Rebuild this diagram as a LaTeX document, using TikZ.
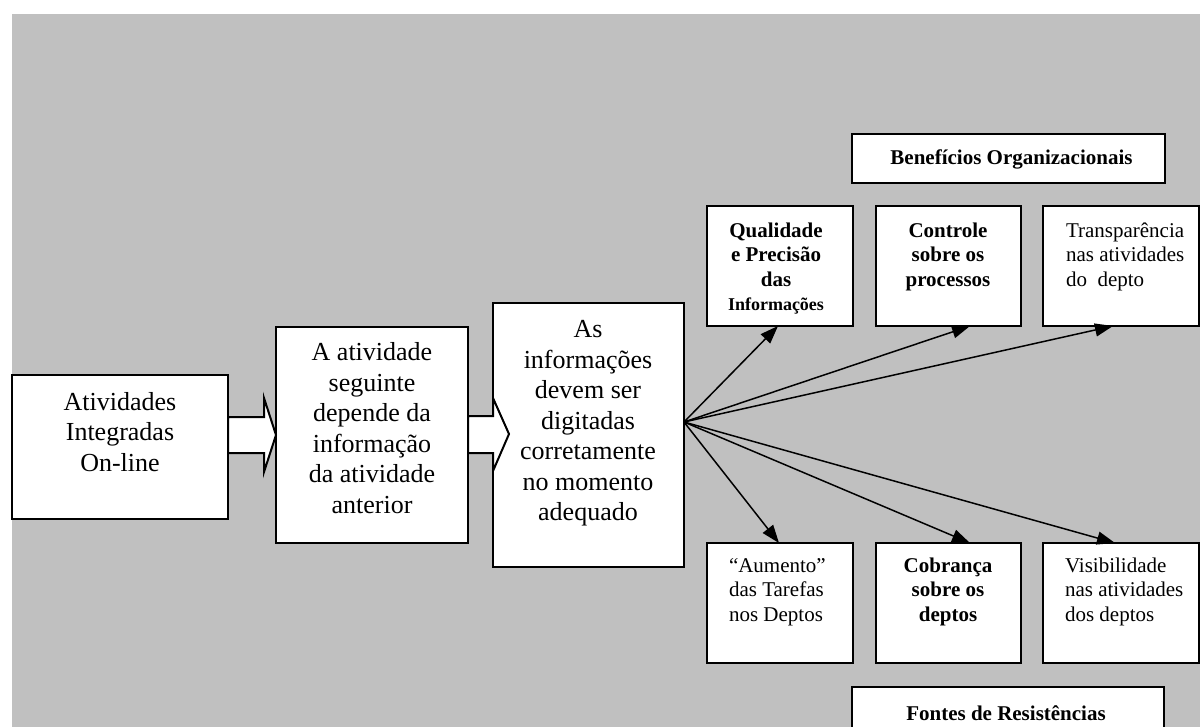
\documentclass[tikz,border=0pt]{standalone}
\usepackage{fontspec}
\setmainfont{Liberation Serif}
\usetikzlibrary{arrows.meta}
\definecolor{canvas}{RGB}{192,192,192}
\newcommand\txtL{\fontsize{26}{30.5}\selectfont}
\newcommand\txtS{\fontsize{21}{24.5}\selectfont}
\newcommand\txtXS{\fontsize{18}{24.5}\selectfont}
\begin{document}
\begin{tikzpicture}[x=1pt,y=-1pt,
  panel/.style={draw=black, fill=white, line width=2pt, inner sep=0pt, outer sep=0pt, anchor=north west},
  txtc/.style={inner sep=0pt, outer sep=0pt, anchor=base},
  txtw/.style={inner sep=0pt, outer sep=0pt, anchor=base west},
  flow/.style={draw=black, fill=white, line width=2pt, line join=miter},
  link/.style={draw=black, line width=1.5pt, -{Triangle[length=18pt,width=13pt]}},
]
% page and grey canvas
\path[use as bounding box, clip] (0,0) rectangle (1200,727);
\fill[white] (0,0) rectangle (1200,727);
\fill[canvas] (12,14) rectangle (1200,727);

% main chain
\node[panel, minimum width=216pt, minimum height=144pt] (b1) at (12,375) {};
\node[panel, minimum width=192pt, minimum height=216pt] (b2) at (276,327) {};
\node[panel, minimum width=191pt, minimum height=264pt] (b3) at (493,303) {};

% headings
\node[panel, minimum width=313pt, minimum height=49pt] (ben) at (852,134) {};
\node[panel, minimum width=312pt, minimum height=60pt] (res) at (852,687) {};

% upper row
\node[panel, minimum width=146pt, minimum height=120pt] (qp) at (707,206) {};
\node[panel, minimum width=145pt, minimum height=120pt] (cp) at (876,206) {};
\node[panel, minimum width=155.5pt, minimum height=120pt] (ta) at (1043,206) {};

% lower row
\node[panel, minimum width=146pt, minimum height=120pt] (at) at (707,543) {};
\node[panel, minimum width=145pt, minimum height=120pt] (cd) at (876,543) {};
\node[panel, minimum width=155.5pt, minimum height=120pt] (va) at (1043,543) {};

% block arrows between the chain boxes
\draw[flow] ([yshift=30pt]b1.east) -- ++(36,0) -- ++(0,-19) -- (b2.west)
  -- ++(-12,37) -- ++(0,-19) -- ++(-36,0) -- cycle;
\draw[flow] ([yshift=19pt]b2.east) -- ++(25,0) -- ++(0,-18) -- ++(16,36)
  -- ++(-16,37) -- ++(0,-18) -- ++(-25,0) -- cycle;

% texts of the chain
\node[txtc] (t1) at (120,410) {\parbox[t]{200pt}{\centering\txtL Atividades\\Integradas\\On-line}};
\node[txtc] (t2) at (372,361) {\parbox[t]{190pt}{\centering\txtL A atividade\\seguinte\\depende da\\informação\\da atividade\\anterior}};
\node[txtc] (t3) at (588,338) {\parbox[t]{190pt}{\centering\txtL As\\informações\\devem ser\\digitadas\\corretamente\\no momento\\adequado}};

% heading texts
\node[txtc] (tben) at (1011.5,165) {\txtS\bfseries Benefícios Organizacionais};
\node[txtc] (tres) at (1006,720) {\txtS\bfseries Fontes de Resistências};

% upper row texts
\node[txtc] (tqp) at (776,237.5) {\parbox[t]{140pt}{\centering\txtS\bfseries Qualidade\\e Precisão\\das\\{\txtXS Informações}}};
\node[txtc] (tcp) at (948,237.5) {\parbox[t]{140pt}{\centering\txtS\bfseries Controle\\sobre os\\processos}};
\node[txtw] (tta) at (1066,237.5) {\parbox[t]{140pt}{\raggedright\txtS Transparência\\nas atividades\\do\ \ depto}};

% lower row texts
\node[txtw] (tat) at (729,572) {\parbox[t]{140pt}{\raggedright\txtS “Aumento”\\das Tarefas\\nos Deptos}};
\node[txtc] (tcd) at (948,572) {\parbox[t]{140pt}{\centering\txtS\bfseries Cobrança\\sobre os\\deptos}};
\node[txtw] (tva) at (1065,572) {\parbox[t]{140pt}{\raggedright\txtS Visibilidade\\nas atividades\\dos deptos}};

% fan of consequences
\coordinate (hub) at ([yshift=13pt]b3.east);
\draw[link] (hub) -- ([xshift=-2pt]qp.south);
\draw[link] (hub) -- ([xshift=21.5pt]cp.south);
\draw[link] (hub) -- ([xshift=-7.75pt]ta.south);
\draw[link] (hub) -- ([xshift=-1pt]at.north);
\draw[link] (hub) -- ([xshift=21.5pt]cd.north);
\draw[link] (hub) -- ([xshift=-5.75pt]va.north);
\end{tikzpicture}
\end{document}
